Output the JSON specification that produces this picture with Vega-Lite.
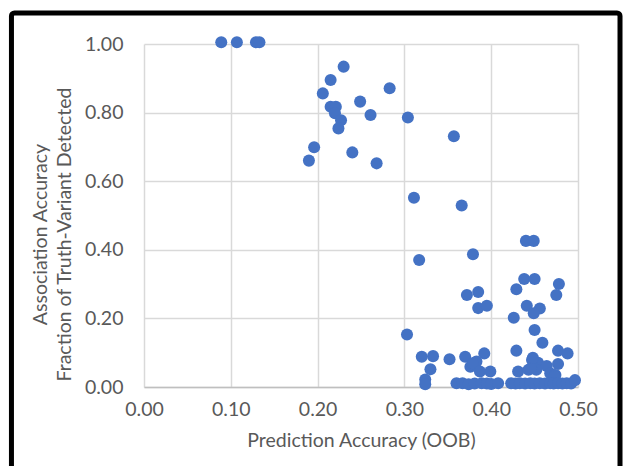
{
  "$schema": "https://vega.github.io/schema/vega-lite/v6.json",
  "width": 434,
  "height": 343,
  "autosize": {"type": "none"},
  "padding": {"left": 144, "top": 44, "right": 48, "bottom": 79},
  "background": "white",
  "config": {"view": {"stroke": null}, "font": "Lato"},
  "layer": [
    {
      "data": {"values": [
        {"oob": 0.089, "assoc": 1.005}, {"oob": 0.107, "assoc": 1.005}, {"oob": 0.129, "assoc": 1.005}, {"oob": 0.133, "assoc": 1.005},
        {"oob": 0.230, "assoc": 0.934}, {"oob": 0.215, "assoc": 0.895}, {"oob": 0.283, "assoc": 0.871}, {"oob": 0.206, "assoc": 0.856},
        {"oob": 0.249, "assoc": 0.832}, {"oob": 0.215, "assoc": 0.817}, {"oob": 0.221, "assoc": 0.817}, {"oob": 0.261, "assoc": 0.793},
        {"oob": 0.220, "assoc": 0.798}, {"oob": 0.227, "assoc": 0.778}, {"oob": 0.304, "assoc": 0.786}, {"oob": 0.224, "assoc": 0.754},
        {"oob": 0.357, "assoc": 0.731}, {"oob": 0.196, "assoc": 0.699}, {"oob": 0.240, "assoc": 0.684}, {"oob": 0.190, "assoc": 0.660},
        {"oob": 0.268, "assoc": 0.652}, {"oob": 0.311, "assoc": 0.552}, {"oob": 0.366, "assoc": 0.529},
        {"oob": 0.317, "assoc": 0.370}, {"oob": 0.379, "assoc": 0.387}, {"oob": 0.440, "assoc": 0.426}, {"oob": 0.449, "assoc": 0.426},
        {"oob": 0.372, "assoc": 0.268}, {"oob": 0.385, "assoc": 0.277}, {"oob": 0.385, "assoc": 0.230}, {"oob": 0.395, "assoc": 0.237},
        {"oob": 0.438, "assoc": 0.315}, {"oob": 0.450, "assoc": 0.315}, {"oob": 0.429, "assoc": 0.285}, {"oob": 0.478, "assoc": 0.300},
        {"oob": 0.475, "assoc": 0.268}, {"oob": 0.441, "assoc": 0.237}, {"oob": 0.456, "assoc": 0.229}, {"oob": 0.449, "assoc": 0.215},
        {"oob": 0.426, "assoc": 0.202}, {"oob": 0.450, "assoc": 0.166}, {"oob": 0.459, "assoc": 0.129}, {"oob": 0.303, "assoc": 0.153},
        {"oob": 0.429, "assoc": 0.106}, {"oob": 0.477, "assoc": 0.106}, {"oob": 0.488, "assoc": 0.098},
        {"oob": 0.320, "assoc": 0.088}, {"oob": 0.333, "assoc": 0.090}, {"oob": 0.352, "assoc": 0.081}, {"oob": 0.370, "assoc": 0.088},
        {"oob": 0.392, "assoc": 0.098}, {"oob": 0.330, "assoc": 0.052}, {"oob": 0.324, "assoc": 0.022}, {"oob": 0.324, "assoc": 0.008},
        {"oob": 0.376, "assoc": 0.059}, {"oob": 0.383, "assoc": 0.074}, {"oob": 0.379, "assoc": 0.069}, {"oob": 0.387, "assoc": 0.045}, {"oob": 0.399, "assoc": 0.045},
        {"oob": 0.447, "assoc": 0.079}, {"oob": 0.454, "assoc": 0.071}, {"oob": 0.464, "assoc": 0.061}, {"oob": 0.477, "assoc": 0.067},
        {"oob": 0.431, "assoc": 0.045}, {"oob": 0.443, "assoc": 0.050}, {"oob": 0.452, "assoc": 0.050}, {"oob": 0.468, "assoc": 0.040},
        {"oob": 0.474, "assoc": 0.035}, {"oob": 0.446, "assoc": 0.055}, {"oob": 0.473, "assoc": 0.030}, {"oob": 0.448, "assoc": 0.085},
        {"oob": 0.360, "assoc": 0.011}, {"oob": 0.367, "assoc": 0.011}, {"oob": 0.374, "assoc": 0.008}, {"oob": 0.381, "assoc": 0.010},
        {"oob": 0.389, "assoc": 0.011}, {"oob": 0.395, "assoc": 0.010}, {"oob": 0.400, "assoc": 0.009}, {"oob": 0.408, "assoc": 0.011},
        {"oob": 0.423, "assoc": 0.011}, {"oob": 0.428, "assoc": 0.010}, {"oob": 0.433, "assoc": 0.011}, {"oob": 0.439, "assoc": 0.010},
        {"oob": 0.445, "assoc": 0.011}, {"oob": 0.450, "assoc": 0.010}, {"oob": 0.456, "assoc": 0.011}, {"oob": 0.462, "assoc": 0.010},
        {"oob": 0.468, "assoc": 0.011}, {"oob": 0.472, "assoc": 0.010}, {"oob": 0.477, "assoc": 0.011}, {"oob": 0.482, "assoc": 0.010},
        {"oob": 0.487, "assoc": 0.011}, {"oob": 0.492, "assoc": 0.010}, {"oob": 0.4965, "assoc": 0.020}
      ]},
      "mark": {"type": "circle", "size": 145, "opacity": 1, "color": "#4472C4", "clip": false},
      "encoding": {
        "x": {
          "field": "oob", "type": "quantitative",
          "scale": {"domain": [0, 0.5], "nice": false, "zero": false},
          "axis": {
            "title": "Prediction Accuracy (OOB)", "values": [0, 0.1, 0.2, 0.3, 0.4, 0.5], "format": ".2f",
            "grid": true, "gridColor": "#d9d9d9", "gridWidth": 1.5,
            "domainColor": "#bfbfbf", "domainWidth": 1.5, "ticks": false, "labelPadding": 13,
            "labelFontSize": 19.5, "labelColor": "#595959", "labelFlush": false,
            "titleFontSize": 19.5, "titleColor": "#595959", "titleFontWeight": "normal", "titlePadding": 13
          }
        },
        "y": {
          "field": "assoc", "type": "quantitative",
          "scale": {"domain": [0, 1], "nice": false, "zero": false},
          "axis": {
            "title": ["Association Accuracy", "Fraction of Truth-Variant Detected"],
            "values": [0, 0.2, 0.4, 0.6, 0.8, 1.0], "format": ".2f",
            "grid": true, "gridColor": "#d9d9d9", "gridWidth": 1.5,
            "domain": false, "ticks": false, "labelPadding": 21,
            "labelFontSize": 19.5, "labelColor": "#595959", "labelFlush": false,
            "titleFontSize": 19.5, "titleColor": "#595959", "titleFontWeight": "normal",
            "titlePadding": 10, "titleLineHeight": 24, "titleY": 190
          }
        }
      }
    },
    {
      "data": {"values": [{}]},
      "mark": {"type": "rect", "filled": false, "stroke": "black", "strokeWidth": 5, "cornerRadius": 3, "clip": false},
      "encoding": {
        "x": {"datum": -0.1527, "type": "quantitative"},
        "x2": {"datum": 0.5484},
        "y": {"datum": -0.3, "type": "quantitative"},
        "y2": {"datum": 1.0904}
      }
    }
  ]
}
